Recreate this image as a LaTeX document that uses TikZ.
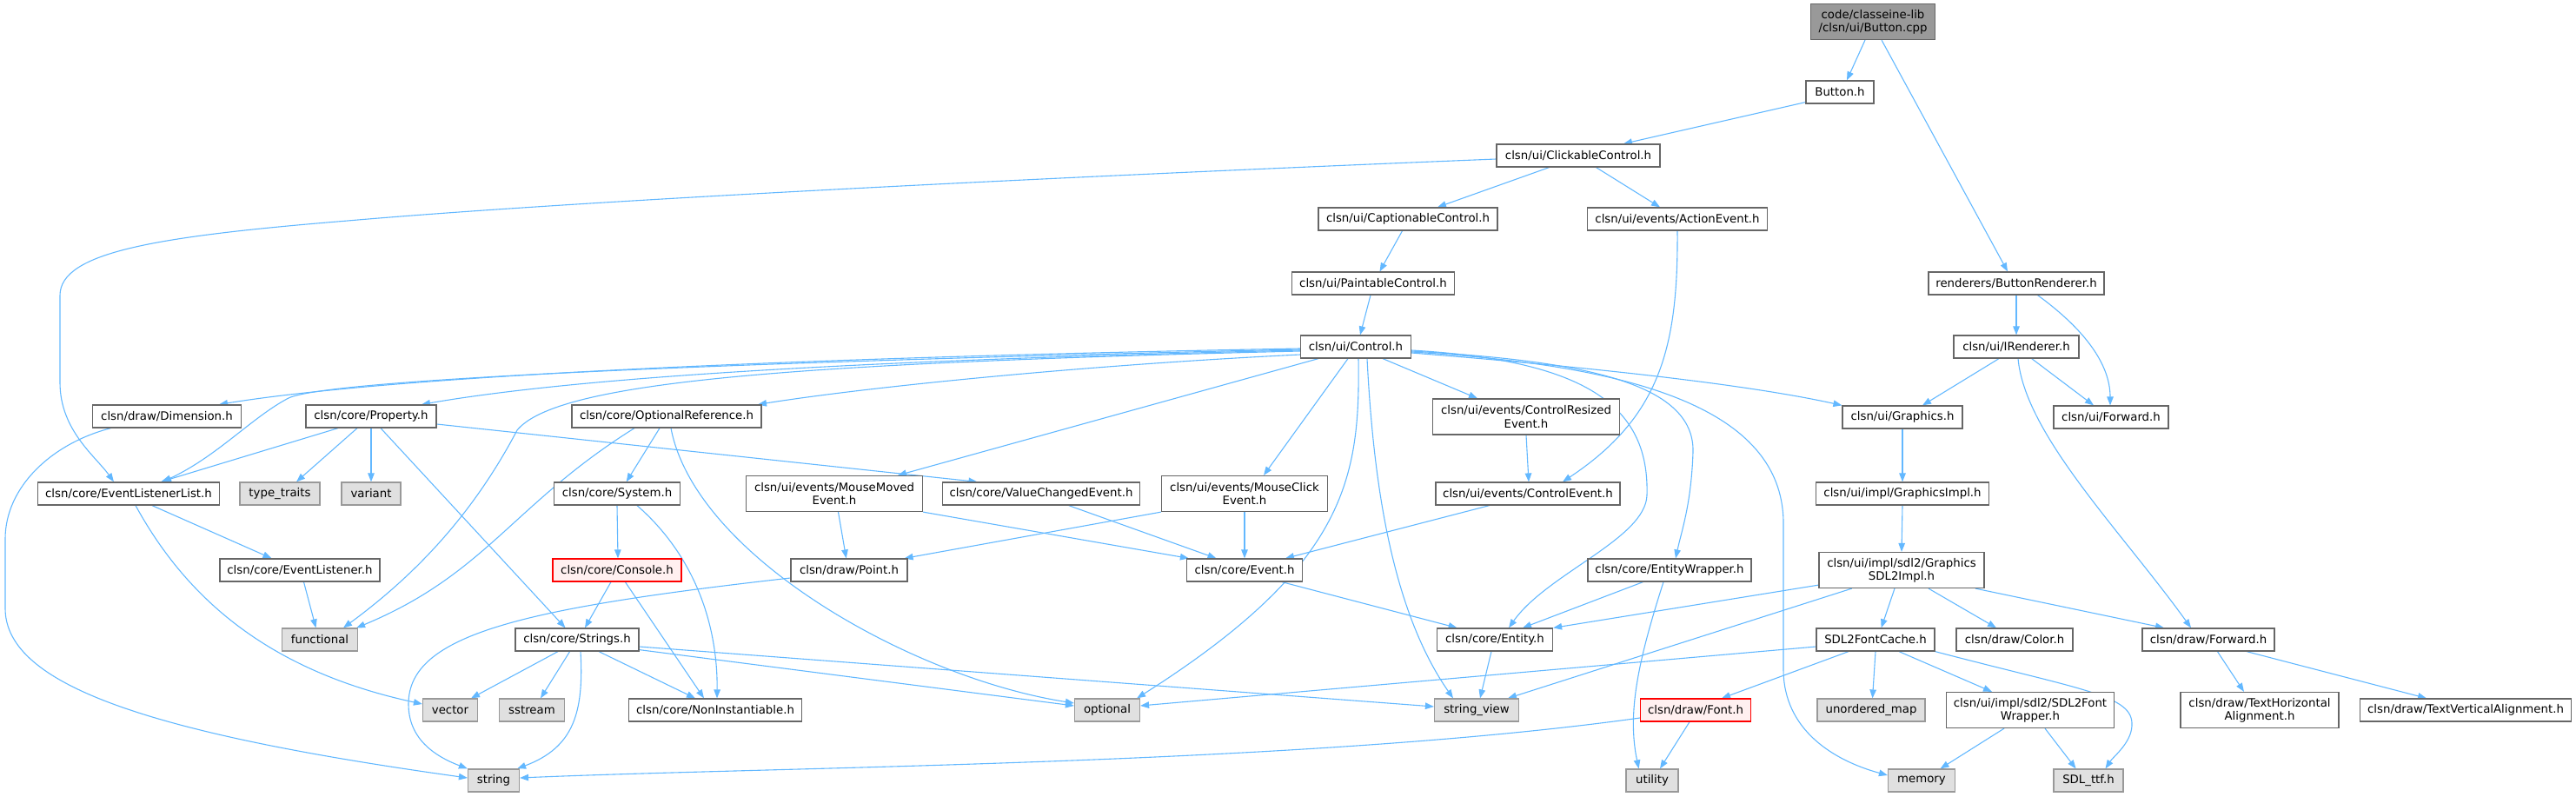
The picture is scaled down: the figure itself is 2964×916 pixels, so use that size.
\documentclass[tikz,border=0pt]{standalone}
\usepackage{fontspec}
\setmainfont{DejaVu Sans}
\usetikzlibrary{arrows.meta}
\definecolor{cgA}{HTML}{666666}
\definecolor{cgB}{HTML}{999999}
\definecolor{cgC}{HTML}{E0E0E0}
\definecolor{cred}{HTML}{FF0000}
\definecolor{cpink}{HTML}{FFF0F0}
\definecolor{eblue}{HTML}{63B8FF}
\newcommand\dxfont{\fontsize{13.3}{15.3}\selectfont}
\pgfdeclarelayer{bg}
\pgfsetlayers{bg,main}
\tikzset{
 box/.style={draw=cgA, fill=white, line width=1.2pt, inner sep=0pt, minimum height=26pt, align=center, font=\dxfont},
 sys/.style={box, draw=cgB, fill=cgC},
 rootbox/.style={box, fill=cgB, draw=cgA},
 trunc/.style={box, draw=cred, fill=cpink},
 dep/.style={draw=eblue, line width=1.1pt, -{Triangle[length=10pt,width=7.5pt]}},
}
\begin{document}
\begin{tikzpicture}[x=1pt,y=-1pt]
\useasboundingbox (0,0) rectangle (2964,916);
% nodes
\node[rootbox, minimum width=143pt, minimum height=41pt] (root) at (2155,25) {code/classeine-lib\\/clsn/ui/Button.cpp};
\node[box, minimum width=78pt] (buttonh) at (2117,106) {Button.h};
\node[box, minimum width=188pt] (click) at (1816,179) {clsn/ui/ClickableControl.h};
\node[box, minimum width=206pt] (caption) at (1620,252) {clsn/ui/CaptionableControl.h};
\node[box, minimum width=207pt] (action) at (1930,252) {clsn/ui/events/ActionEvent.h};
\node[box, minimum width=187pt] (paint) at (1580,326) {clsn/ui/PaintableControl.h};
\node[box, minimum width=127pt] (control) at (1560,399) {clsn/ui/Control.h};
\node[box, minimum width=202pt] (brend) at (2320,326) {renderers/ButtonRenderer.h};
\node[box, minimum width=144pt] (irend) at (2320,399) {clsn/ui/IRenderer.h};
\node[box, minimum width=171pt] (dim) at (192,479) {clsn/draw/Dimension.h};
\node[box, minimum width=150pt] (prop) at (427,479) {clsn/core/Property.h};
\node[box, minimum width=218pt] (optref) at (767,479) {clsn/core/OptionalReference.h};
\node[box, minimum width=215pt, minimum height=41pt] (resized) at (1756,479.5) {clsn/ui/events/ControlResized\\Event.h};
\node[box, minimum width=138pt] (graphics) at (2189,480) {clsn/ui/Graphics.h};
\node[box, minimum width=132pt] (uifwd) at (2429,480) {clsn/ui/Forward.h};
\node[box, minimum width=209pt] (ell) at (148,568) {clsn/core/EventListenerList.h};
\node[sys, minimum width=92pt] (typetraits) at (322,568) {type\_traits};
\node[sys, minimum width=68pt] (variant) at (427,568) {variant};
\node[box, minimum width=145pt] (system) at (710,568) {clsn/core/System.h};
\node[box, minimum width=203pt, minimum height=41pt] (mmoved) at (960,568) {clsn/ui/events/MouseMoved\\Event.h};
\node[box, minimum width=227pt] (valchg) at (1198,568) {clsn/core/ValueChangedEvent.h};
\node[box, minimum width=191pt, minimum height=41pt] (mclick) at (1432,568) {clsn/ui/events/MouseClick\\Event.h};
\node[box, minimum width=212pt] (ctrlevt) at (1758,568) {clsn/ui/events/ControlEvent.h};
\node[box, minimum width=199pt] (gimpl) at (2189,568) {clsn/ui/impl/GraphicsImpl.h};
\node[box, minimum width=184pt] (elist) at (345,656) {clsn/core/EventListener.h};
\node[trunc, minimum width=148pt] (console) at (710,656) {clsn/core/Console.h};
\node[box, minimum width=134pt] (point) at (977,656) {clsn/draw/Point.h};
\node[box, minimum width=133pt] (event) at (1432,656) {clsn/core/Event.h};
\node[box, minimum width=188pt] (ewrap) at (1921,656) {clsn/core/EntityWrapper.h};
\node[box, minimum width=190pt, minimum height=41pt] (gsdl) at (2188,656) {clsn/ui/impl/sdl2/Graphics\\SDL2Impl.h};
\node[sys, minimum width=87pt] (functional) at (368,736) {functional};
\node[box, minimum width=142pt] (strings) at (664,736) {clsn/core/Strings.h};
\node[box, minimum width=133pt] (entity) at (1720,736) {clsn/core/Entity.h};
\node[box, minimum width=136pt] (fcache) at (2158,736) {SDL2FontCache.h};
\node[box, minimum width=134pt] (color) at (2318,736) {clsn/draw/Color.h};
\node[box, minimum width=152pt] (dfwd) at (2541,736) {clsn/draw/Forward.h};
\node[sys, minimum width=63pt] (vector) at (518,817) {vector};
\node[sys, minimum width=75pt] (sstream) at (612,817) {sstream};
\node[box, minimum width=199pt] (noninst) at (823,817) {clsn/core/NonInstantiable.h};
\node[sys, minimum width=75pt] (optional) at (1274,817) {optional};
\node[sys, minimum width=97pt] (sview) at (1699,817) {string\_view};
\node[trunc, minimum width=127pt] (font) at (1951,817) {clsn/draw/Font.h};
\node[sys, minimum width=124pt] (umap) at (2153,817) {unordered\_map};
\node[box, minimum width=193pt, minimum height=41pt] (fwrap) at (2336,817) {clsn/ui/impl/sdl2/SDL2Font\\Wrapper.h};
\node[box, minimum width=182pt, minimum height=41pt] (thoriz) at (2600,817) {clsn/draw/TextHorizontal\\Alignment.h};
\node[box, minimum width=243pt] (tvert) at (2837,817) {clsn/draw/TextVerticalAlignment.h};
\node[sys, minimum width=59pt] (string) at (568,898) {string};
\node[sys, minimum width=60pt] (utility) at (1901,898) {utility};
\node[sys, minimum width=77pt] (memory) at (2211,898) {memory};
\node[sys, minimum width=80pt] (sdlttf) at (2403,898) {SDL\_ttf.h};
% edges
\begin{pgfonlayer}{bg}
\draw[dep] ([xshift=-9pt]root.south) -- ([xshift=8pt]buttonh.north);
\draw[dep] ([xshift=10pt]root.south) -- ([xshift=-10pt]brend.north);
\draw[dep] ([yshift=2pt]buttonh.south west) -- ([xshift=52pt]click.north);
\draw[dep] ([yshift=-4pt]click.west) .. controls (1300,200) and (700,228) .. (400,254) .. controls (180,272) and (69,290) .. (69,340) -- (69,440) .. controls (69,495) and (110,525) .. ([xshift=-17pt]ell.north);
\draw[dep] ([xshift=-33.5pt]click.south) -- ([xshift=34pt]caption.north);
\draw[dep] ([xshift=20.5pt]click.south) -- ([xshift=-20pt]action.north);
\draw[dep] ([xshift=-6.5pt]caption.south) -- ([xshift=7.5pt]paint.north);
\draw[dep] ([xshift=-3pt]paint.south) -- ([xshift=5pt]control.north);
\draw[dep] (action.south) .. controls (1931,400) and (1910,480) .. ([xshift=40pt]ctrlevt.north);
\draw[dep] (brend.south) -- (irend.north);
\draw[dep] ([xshift=24.5pt]brend.south) .. controls (2400,380) and (2428,420) .. ([xshift=-1pt]uifwd.north);
\draw[dep] ([xshift=-20pt]irend.south) -- ([xshift=23pt]graphics.north);
\draw[dep] ([xshift=17.7pt]irend.south) -- ([xshift=-20pt]uifwd.north);
\draw[dep] ([xshift=2pt]irend.south) .. controls (2330,500) and (2440,610) .. ([xshift=-20pt]dfwd.north);
% Control.h outgoing
\draw[dep] ([yshift=-2pt]control.west) .. controls (1100,408) and (500,425) .. ([xshift=60pt]dim.north);
\draw[dep] ([yshift=-3pt]control.west) .. controls (900,415) and (380,435) .. (332,458) .. controls (290,480) and (250,525) .. ([xshift=39pt]ell.north);
\draw[dep] ([yshift=-4pt]control.west) .. controls (1100,412) and (700,428) .. ([xshift=58pt]prop.north);
\draw[dep] ([yshift=-9pt]control.west) .. controls (1250,420) and (1000,445) .. ([xshift=105pt]optref.north);
\draw[dep] ([yshift=-5pt]control.west) .. controls (900,418) and (640,440) .. (595,495) .. controls (545,590) and (480,660) .. ([xshift=27pt]functional.north);
\draw[dep] ([xshift=-43pt]control.south) -- ([xshift=73pt]mmoved.north);
\draw[dep] ([xshift=-9pt]control.south) -- ([xshift=22pt]mclick.north);
\draw[dep] ([xshift=3pt]control.south) .. controls (1565,550) and (1550,650) .. ([xshift=-4pt]optional.north east);
\draw[dep] ([xshift=13pt]control.south) .. controls (1580,550) and (1600,700) .. ([xshift=-27pt]sview.north);
\draw[dep] ([xshift=31pt]control.south) -- ([xshift=-56pt]resized.north);
\draw[dep] ([yshift=-4pt]control.east) .. controls (1830,415) and (1898,470) .. (1895,570) .. controls (1893,620) and (1780,660) .. ([xshift=16pt]entity.north);
\draw[dep] ([yshift=-5pt]control.east) .. controls (1820,415) and (1950,440) .. (1948,520) .. controls (1946,580) and (1935,610) .. ([xshift=7pt]ewrap.north);
\draw[dep] ([yshift=-6pt]control.east) .. controls (1880,420) and (2050,470) .. (2052,600) -- (2052,770) .. controls (2052,840) and (2110,875) .. ([yshift=6pt]memory.west);
\draw[dep] ([yshift=-7pt]control.east) .. controls (1800,420) and (2000,440) .. (graphics.north west);
% left part
\draw[dep] ([xshift=27pt]ell.south) -- ([xshift=-32.5pt]elist.north);
\draw[dep] ([xshift=8pt]ell.south) .. controls (210,680) and (300,770) .. ([yshift=7pt]vector.west);
\draw[dep] ([xshift=-38pt]prop.south) -- ([xshift=37pt]ell.north);
\draw[dep] ([xshift=-16pt]prop.south) -- ([xshift=19pt]typetraits.north);
\draw[dep] (prop.south) -- (variant.north);
\draw[dep] ([xshift=11pt]prop.south) -- ([xshift=-13.5pt]strings.north);
\draw[dep] ([yshift=-9pt]prop.east) -- ([xshift=-73.5pt]valchg.north);
\draw[dep] ([xshift=-64.5pt]dim.south) .. controls (60,510) and (6,560) .. (6,620) -- (6,700) .. controls (6,790) and (180,845) .. ([yshift=3pt]string.west);
\draw[dep] ([xshift=-37pt]optref.south) .. controls (590,580) and (560,660) .. ([xshift=-2pt]functional.north east);
\draw[dep] ([xshift=-8pt]optref.south) -- ([xshift=10.7pt]system.north);
\draw[dep] ([xshift=5pt]optref.south) .. controls (800,640) and (1050,780) .. ([yshift=8pt]optional.west);
\draw[dep] (system.south) -- ([xshift=1pt]console.north);
\draw[dep] ([xshift=23pt]system.south) .. controls (800,640) and (826,720) .. ([xshift=2pt]noninst.north);
\draw[dep] ([xshift=-7pt]console.south) -- ([xshift=9pt]strings.north);
\draw[dep] ([xshift=9.4pt]console.south) -- ([xshift=-13pt]noninst.north);
\draw[dep] ([xshift=4.5pt]elist.south) -- ([xshift=-4.5pt]functional.north);
\draw[dep] ([xshift=-22pt]strings.south) -- ([xshift=24pt]vector.north);
\draw[dep] ([xshift=-8.4pt]strings.south) -- ([xshift=10pt]sstream.north);
\draw[dep] ([xshift=4pt]strings.south) .. controls (672,820) and (660,860) .. ([xshift=-3pt]string.north east);
\draw[dep] ([xshift=25pt]strings.south) -- ([xshift=-23pt]noninst.north);
\draw[dep] ([yshift=2pt]strings.south east) -- ([yshift=5pt]optional.west);
\draw[dep] ([yshift=-8pt]strings.east) -- ([yshift=4pt]sview.west);
% middle
\draw[dep] ([xshift=4.5pt]mmoved.south) -- ([xshift=-3.3pt]point.north);
\draw[dep] (mmoved.south east) -- ([xshift=3pt]event.north west);
\draw[dep] ([xshift=31.7pt]valchg.south) -- ([xshift=-32.5pt]event.north);
\draw[dep] (mclick.south west) -- ([xshift=-4pt]point.north east);
\draw[dep] (mclick.south) -- (event.north);
\draw[dep] (resized.south) -- ([xshift=1pt]ctrlevt.north);
\draw[dep] ([xshift=-44.3pt]ctrlevt.south) -- ([xshift=47pt]event.north);
\draw[dep] ([xshift=43pt]event.south) -- ([xshift=-43.4pt]entity.north);
\draw[dep] ([yshift=-9pt]point.west) .. controls (600,700) and (470,730) .. (470,810) .. controls (470,850) and (500,870) .. (string.north west);
\draw[dep] ([xshift=-30.5pt]ewrap.south) -- ([xshift=32pt]entity.north);
\draw[dep] ([xshift=-7pt]ewrap.south) .. controls (1885,760) and (1872,820) .. ([xshift=-15.4pt]utility.north);
\draw[dep] ([xshift=-4pt]entity.south) -- ([xshift=4pt]sview.north);
% right part
\draw[dep] (graphics.south) -- (gimpl.north);
\draw[dep] (gimpl.south) -- (gsdl.north);
\draw[dep] ([yshift=4pt]gsdl.south west) -- (entity.north east);
\draw[dep] ([xshift=-57.3pt]gsdl.south) -- ([xshift=36pt]sview.north);
\draw[dep] ([xshift=-8pt]gsdl.south) -- ([xshift=6.6pt]fcache.north);
\draw[dep] ([xshift=31pt]gsdl.south) -- ([xshift=-21pt]color.north);
\draw[dep] ([xshift=85pt]gsdl.south) -- ([xshift=-51pt]dfwd.north);
\draw[dep] ([yshift=-8pt]fcache.west) -- ([yshift=5pt]optional.east);
\draw[dep] ([xshift=-31pt]fcache.south) -- ([xshift=30pt]font.north);
\draw[dep] (fcache.south) -- ([xshift=1.5pt]umap.north);
\draw[dep] ([xshift=27pt]fcache.south) -- ([xshift=-44pt]fwrap.north);
\draw[dep] (fcache.south east) .. controls (2400,795) and (2455,800) .. (2453,835) .. controls (2452,855) and (2432,870) .. ([xshift=19.5pt]sdlttf.north);
\draw[dep] ([yshift=-9pt]font.west) .. controls (1500,880) and (900,882) .. ([yshift=3pt]string.east);
\draw[dep] ([xshift=-7pt]font.south) -- ([xshift=9pt]utility.north);
\draw[dep] ([xshift=-30pt]fwrap.south) -- ([xshift=21.5pt]memory.north);
\draw[dep] ([xshift=17pt]fwrap.south) -- ([xshift=-14.4pt]sdlttf.north);
\draw[dep] ([xshift=10.4pt]dfwd.south) -- ([xshift=-18pt]thoriz.north);
\draw[dep] ([xshift=44pt]dfwd.south) -- ([xshift=-45pt]tvert.north);
\end{pgfonlayer}
\end{tikzpicture}
\end{document}
